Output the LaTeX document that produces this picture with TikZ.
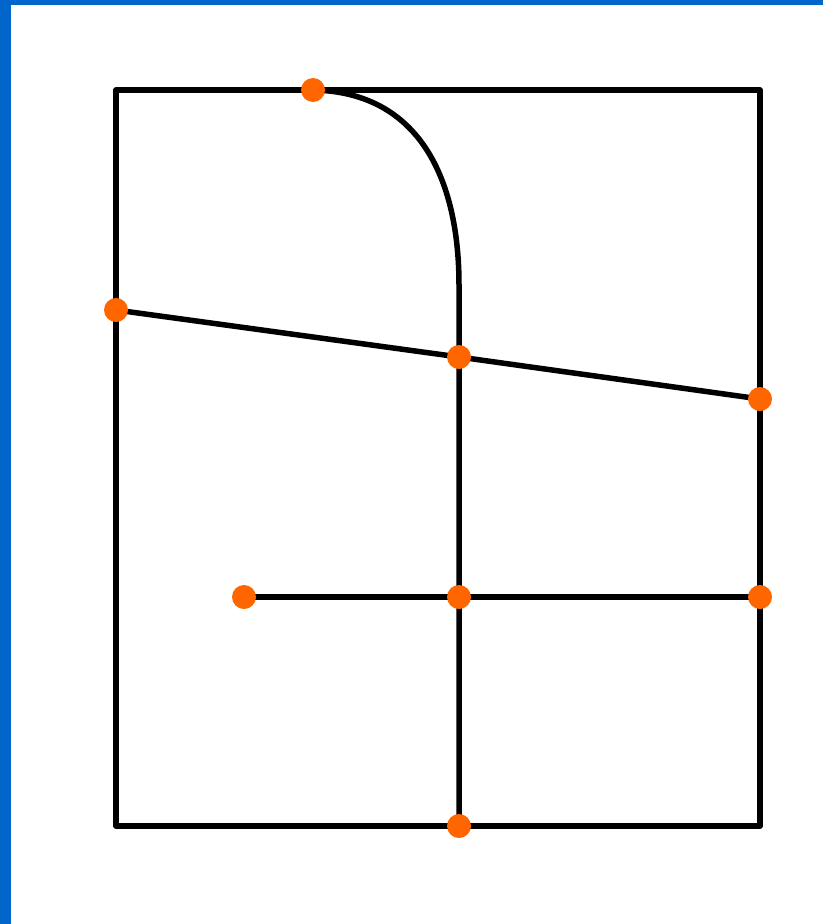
\documentclass[tikz,border=0pt]{standalone}
\usetikzlibrary{backgrounds}
\definecolor{bluebar}{HTML}{0066CC}
\definecolor{dotorange}{HTML}{FF6600}
\tikzset{
  wire/.style={line width=5.5pt, black, line join=round},
  junction/.style={circle, fill=dotorange, inner sep=0pt, minimum size=24pt},
}
\begin{document}
\begin{tikzpicture}[x=1pt,y=-1pt]
\useasboundingbox (0,0) rectangle (823,924);
% nodes
\node[junction] (a) at (313,90) {};
\node[junction] (b) at (116,310) {};
\node[junction] (c) at (459,357) {};
\node[junction] (d) at (760,399) {};
\node[junction] (e) at (244,597) {};
\node[junction] (f) at (459,597) {};
\node[junction] (g) at (760,597) {};
\node[junction] (h) at (459,826) {};
\coordinate (k) at (459,285);
\coordinate (tl) at (116,90);
\coordinate (tr) at (760,90);
\coordinate (br) at (760,826);
\coordinate (bl) at (116,826);
\begin{scope}[on background layer]
\fill[white] (0,0) rectangle (823,924);
\fill[bluebar] (0,0) rectangle (11,924);
\fill[bluebar] (0,0) rectangle (823,5);
\draw[wire] (tl) -- (tr) -- (br) -- (bl) -- cycle;
\draw[wire] (a.center) .. controls (420,92) and (459,180) .. (k) -- (c.center) -- (f.center) -- (h.center);
\draw[wire] (b.center) -- (c.center) -- (d.center);
\draw[wire] (e.center) -- (f.center) -- (g.center);
\end{scope}
\end{tikzpicture}
\end{document}
